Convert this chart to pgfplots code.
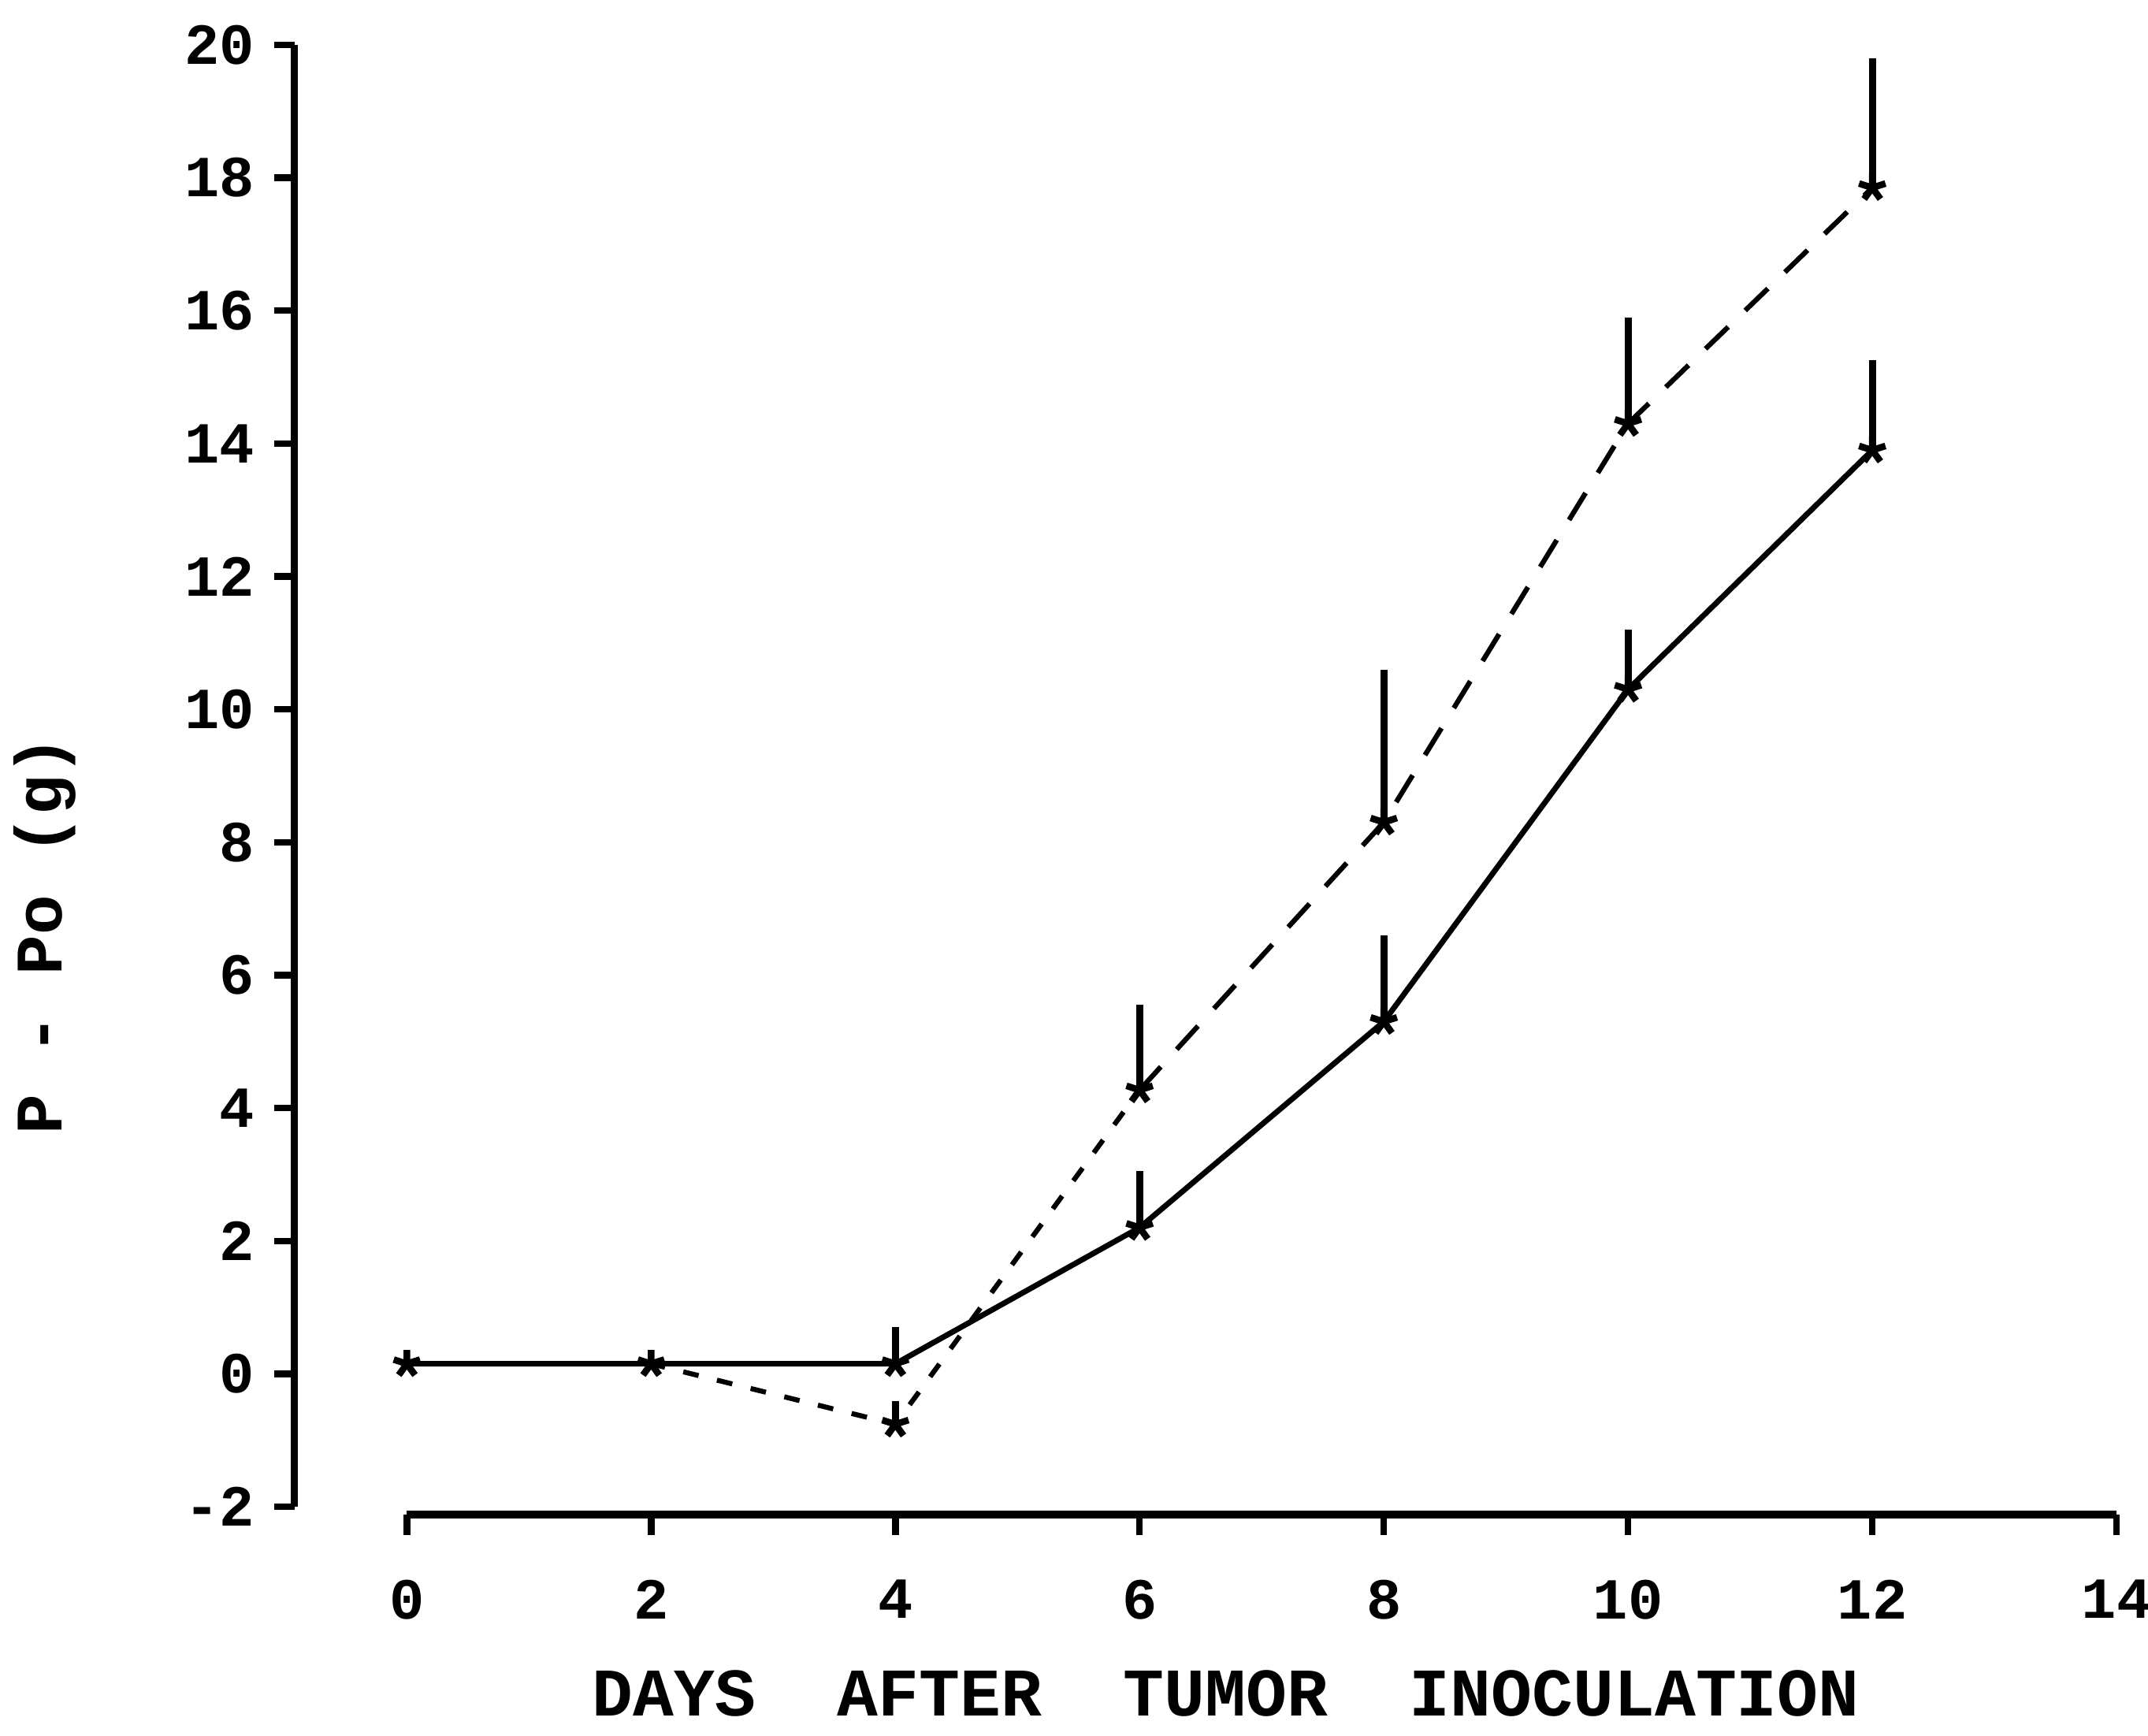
\documentclass[border=0pt]{standalone}
\usepackage{fontspec}
\setmainfont{Liberation Mono}
\usepackage{pgfplots}
\pgfplotsset{compat=1.18}
\begin{document}
\begin{tikzpicture}
\useasboundingbox (-2.582,-1.452) rectangle (11.048,9.56);
\begin{axis}[
  at={(0,0)}, anchor=south west,
  scale only axis, width=10.848cm, height=9.275cm,
  xmin=0, xmax=14, ymin=-2, ymax=20,
  axis x line*=bottom, axis y line*=left,
  axis y line shift=0.713cm, axis x line shift=0.05cm,
  xtick={0,2,...,14}, xticklabels={0,2,4,6,8,10,12,14},
  ytick={-2,0,...,20}, yticklabels={-2,0,2,4,6,8,10,12,14,16,18,20},
  tick align=outside, major tick length=0.13cm,
  tick style={line width=1.2pt, black},
  axis line style={line width=1.3pt, black},
  ticklabel style={font=\fontsize{10.5}{12}\selectfont\bfseries},
  xticklabel style={yshift=-0.16cm},
  xlabel={DAYS\ \ AFTER\ \ TUMOR\ \ INOCULATION},
  ylabel={P - Po (g)},
  xlabel style={at={(axis description cs:0.479,-0.128)}, anchor=center, font=\fontsize{12.3}{14}\selectfont\bfseries},
  ylabel style={at={(axis description cs:-0.212,0.391)}, anchor=center, font=\fontsize{12}{14}\selectfont\bfseries},
  clip=false,
]
% solid series line
\addplot[line width=1pt, black, mark=none] coordinates {(0,0.15)(2,0.15)(4,0.15)(6,2.2)(8,5.3)(10,10.3)(12,13.9)};
% dashed series lines
\addplot[line width=0.9pt, black, mark=none, dash pattern=on 0.1cm off 0.12cm] coordinates {(0,0.15)(2,0.15)(4,-0.76)(6,4.27)};
\addplot[line width=0.9pt, black, mark=none, dash pattern=on 0.2cm off 0.15cm] coordinates {(6,4.27)(8,8.3)(10,14.3)(12,17.85)};
% solid series marks + error bars
\addplot[black, only marks, mark=star, mark size=2.5pt, line width=1.2pt,
  error bars/.cd, y dir=plus, y explicit, error mark=none,
  error bar style={line width=1.3pt, black}]
  table[x=x, y=y, y error=e] {
x y e
0 0.15 0
2 0.15 0
4 0.15 0.55
6 2.2 0.85
8 5.3 1.3
10 10.3 0.9
12 13.9 1.35
};
% dashed series marks + error bars
\addplot[black, only marks, mark=star, mark size=2.5pt, line width=1.2pt,
  error bars/.cd, y dir=plus, y explicit, error mark=none,
  error bar style={line width=1.3pt, black}]
  table[x=x, y=y, y error=e] {
x y e
4 -0.76 0.35
6 4.27 1.29
8 8.3 2.3
10 14.3 1.6
12 17.85 1.95
};
\end{axis}
\end{tikzpicture}
\end{document}
